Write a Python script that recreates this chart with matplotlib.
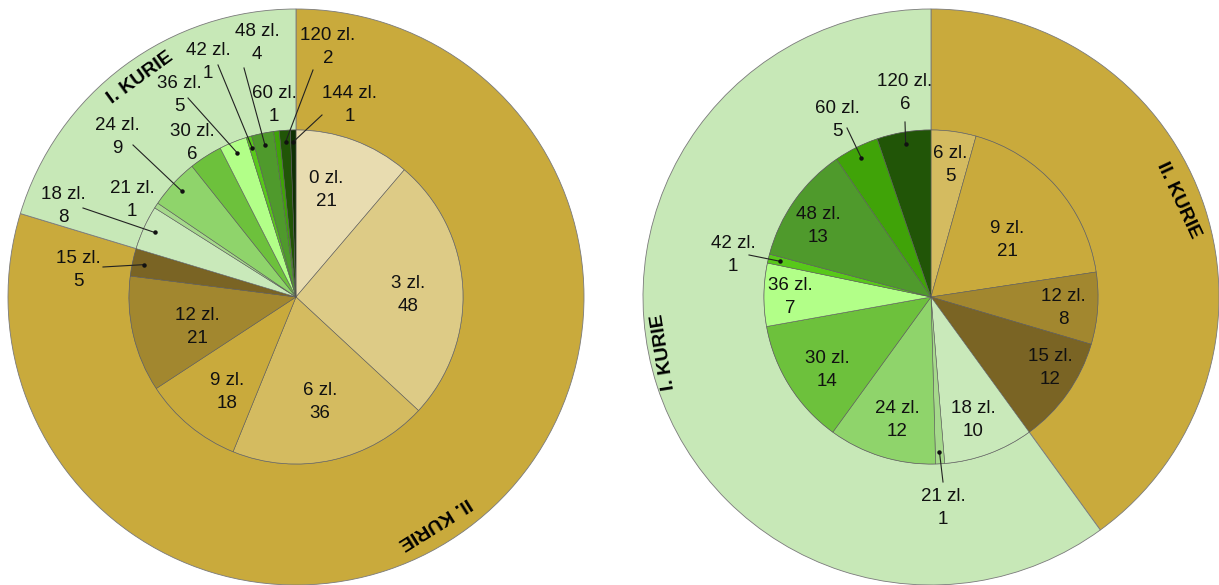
import numpy as np
import matplotlib.pyplot as plt

plt.rcParams['font.family'] = ['Liberation Sans', 'DejaVu Sans']

W, H = 1219, 585

# data
kurie_names = ['II. KURIE', 'I. KURIE']

left_labels = ['0 zl.', '3 zl.', '6 zl.', '9 zl.', '12 zl.', '15 zl.', '18 zl.', '21 zl.',
               '24 zl.', '30 zl.', '36 zl.', '42 zl.', '48 zl.', '60 zl.', '120 zl.', '144 zl.']
left_counts = [21, 48, 36, 18, 21, 5, 8, 1, 9, 6, 5, 1, 4, 1, 2, 1]
left_n_kurie2 = 6   # first six prices belong to II. Kurie

right_labels = ['6 zl.', '9 zl.', '12 zl.', '15 zl.', '18 zl.', '21 zl.', '24 zl.',
                '30 zl.', '36 zl.', '42 zl.', '48 zl.', '60 zl.', '120 zl.']
right_counts = [5, 21, 8, 12, 10, 1, 12, 14, 7, 1, 13, 5, 6]
right_n_kurie2 = 4

# colours
kurie_colors = ['#C9AA3C', '#C7E8B7']
cat_colors = {
    '0 zl.': '#E8DCB0', '3 zl.': '#DDCB86', '6 zl.': '#D4BB60', '9 zl.': '#C9AA3C',
    '12 zl.': '#A2872F', '15 zl.': '#7A6424', '18 zl.': '#C9E9BA', '21 zl.': '#A6D98C',
    '24 zl.': '#8FD46B', '30 zl.': '#6DC13C', '36 zl.': '#B2FF88', '42 zl.': '#58C81A',
    '48 zl.': '#4F9A2C', '60 zl.': '#40A308', '120 zl.': '#215507', '144 zl.': '#0F3004',
}

R_OUT, R_IN = 288, 167

# label positions in pixels (x, y from top)
left_text = {
    '0 zl.': (326, 190), '3 zl.': (408, 295), '6 zl.': (320, 402), '9 zl.': (227, 392),
    '12 zl.': (197, 327), '15 zl.': (78, 270), '18 zl.': (63, 206), '21 zl.': (132, 200),
    '24 zl.': (117, 137), '30 zl.': (192, 143), '36 zl.': (179, 95), '42 zl.': (208, 62),
    '48 zl.': (257, 43), '60 zl.': (274, 105), '120 zl.': (328, 47), '144 zl.': (350, 105),
}
left_leaders = {
    '15 zl.': (103, 267), '18 zl.': (83, 208), '24 zl.': (133, 145), '36 zl.': (188, 98),
    '42 zl.': (218, 65), '48 zl.': (244, 68), '120 zl.': (313, 70), '144 zl.': (322, 115),
}
right_text = {
    '6 zl.': (950, 165), '9 zl.': (1007, 240), '12 zl.': (1063, 308), '15 zl.': (1050, 368),
    '18 zl.': (973, 420), '21 zl.': (943, 508), '24 zl.': (897, 420), '30 zl.': (827, 370),
    '36 zl.': (790, 297), '42 zl.': (733, 255), '48 zl.': (818, 226), '60 zl.': (837, 120),
    '120 zl.': (905, 93),
}
right_leaders = {
    '21 zl.': (943, 482), '42 zl.': (749, 255), '60 zl.': (847, 128), '120 zl.': (905, 122),
}

fig = plt.figure(figsize=(12.19, 5.85), dpi=100)
ax = fig.add_axes([0, 0, 1, 1])


def draw(center, labels, counts, n2, text_pos, leaders, kurie_lbl):
    cx, cy = center[0], H - center[1]
    outer = [sum(counts[:n2]), sum(counts[n2:])]
    ax.pie(outer, radius=R_OUT, center=(cx, cy), startangle=90, counterclock=False,
           colors=kurie_colors,
           wedgeprops=dict(width=R_OUT - R_IN, edgecolor='#7a7a7a', linewidth=0.6))
    wedges, _ = ax.pie(counts, radius=R_IN, center=(cx, cy), startangle=90,
                       counterclock=False, colors=[cat_colors[l] for l in labels],
                       wedgeprops=dict(edgecolor='#5a5a5a', linewidth=0.4))
    for w, lab, n in zip(wedges, labels, counts):
        tx, ty = text_pos[lab]
        ax.text(tx, H - ty, f'{lab}\n{n}', ha='center', va='center',
                fontsize=13.5, linespacing=1.5, color='#111111')
        if lab in leaders:
            mid = np.deg2rad((w.theta1 + w.theta2) / 2)
            px = cx + 0.93 * R_IN * np.cos(mid)
            py = cy + 0.93 * R_IN * np.sin(mid)
            sx, sy = leaders[lab]
            ax.plot([sx, px], [H - sy, py], color='#222222', lw=0.8)
            ax.plot(px, py, 'o', ms=2.2, color='#111111')
    for name, (x, y, rot) in kurie_lbl.items():
        ax.text(x, H - y, name, ha='center', va='center', rotation=rot,
                rotation_mode='anchor', fontsize=14, fontweight='bold')


draw((296, 297), left_labels, left_counts, left_n_kurie2, left_text, left_leaders,
     {'I. KURIE': (140, 78, 36), 'II. KURIE': (435, 523, 212)})
draw((931, 297), right_labels, right_counts, right_n_kurie2, right_text, right_leaders,
     {'II. KURIE': (1178, 200, -65), 'I. KURIE': (664, 352, 99)})

ax.set_xlim(0, W)
ax.set_ylim(0, H)
ax.set_aspect('auto')
ax.axis('off')

fig.savefig('out.png', dpi=100)
